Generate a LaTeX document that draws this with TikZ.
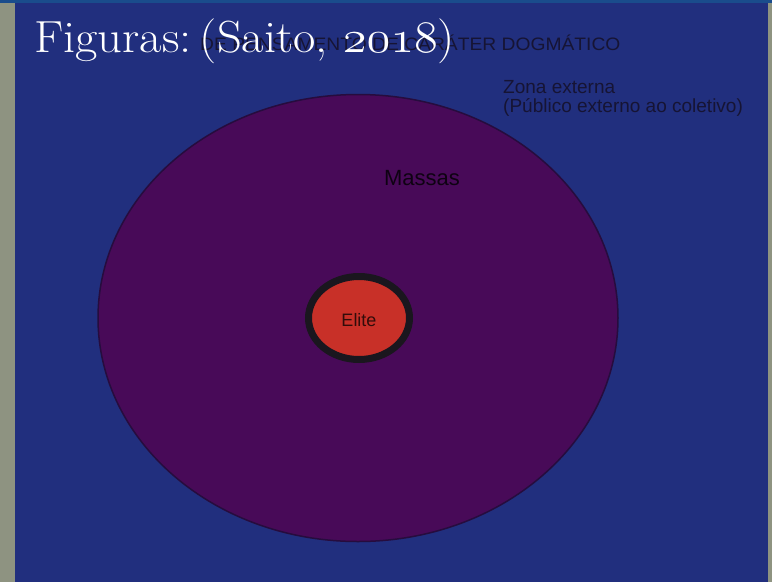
\RequirePackage{fix-cm}
\documentclass[tikz,border=0pt]{standalone}
\usepackage{fontspec}
\setsansfont{Liberation Sans}
\usetikzlibrary{shapes.geometric}

\definecolor{slideblue}{RGB}{33,47,126}
\definecolor{topbar}{RGB}{26,76,140}
\definecolor{wallgray}{RGB}{142,147,129}
\definecolor{massfill}{RGB}{72,10,88}
\definecolor{massline}{RGB}{38,12,62}
\definecolor{elitefill}{RGB}{200,48,40}
\definecolor{elitering}{RGB}{26,22,30}
\definecolor{darktext}{RGB}{22,20,52}

\newcommand{\velhos}[1]{{\fontencoding{OML}\fontfamily{cmm}\fontseries{m}\fontshape{it}\selectfont #1}}

\begin{document}
\begin{tikzpicture}[x=1pt,y=-1pt]
\tikzstyle{zona}=[ellipse,draw=massline,line width=1.5pt,fill=massfill,inner sep=0pt]
\tikzstyle{nucleo}=[ellipse,draw=elitering,line width=7pt,fill=elitefill,inner sep=0pt]
\tikzstyle{rotulo}=[font=\sffamily,text=darktext,inner sep=0pt]

% fundo
\useasboundingbox (0,0) rectangle (772,582);
\fill[wallgray] (0,0) rectangle (772,582);
\fill[slideblue] (15,3) rectangle (768,582);
\fill[topbar] (0,0) rectangle (772,3);

% titulo encoberto
\node [rotulo,anchor=base west,font=\sffamily\fontsize{18}{18}\selectfont,xscale=1.07,transform shape] (sub) at (200,50) {DE PENSAMENTO DE CARÁTER DOGMÁTICO};

% circulos
\node [zona,minimum width=520pt,minimum height=447pt] (M) at (358,318) {};
\node [nucleo,minimum width=101pt,minimum height=83pt] (E) at (359,318) {};

\node [rotulo,text=black!80!massfill,font=\sffamily\fontsize{22}{22}\selectfont] (m) at (422,178) {Massas};
\node [rotulo,text=black!75!elitefill,font=\sffamily\fontsize{18}{18}\selectfont] (e) at (359,320) {Elite};
\node [rotulo,anchor=north west,align=left,font=\sffamily\fontsize{19}{19.5}\selectfont] (z) at (503,80) {Zona externa\\(Público externo ao coletivo)};

% titulo
\node [anchor=base west,inner sep=0pt,text=white,font=\fontsize{45}{45}\selectfont,xscale=1.08,transform shape] (tit) at (34,52) {Figuras:\,(Saito, \velhos{2018})};
\end{tikzpicture}
\end{document}
